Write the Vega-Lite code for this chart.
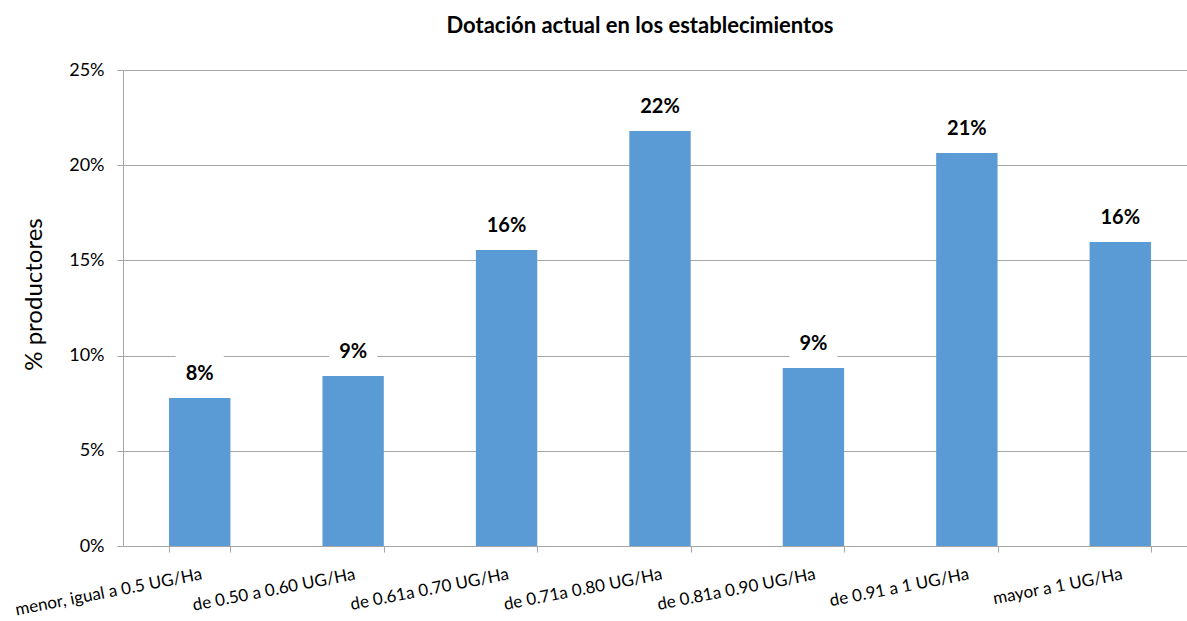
{
  "$schema": "https://vega.github.io/schema/vega-lite/v6.json",
  "autosize": {"type": "none"},
  "padding": {"left": 123, "top": 70, "right": 0, "bottom": 75},
  "width": 1074,
  "height": 476,
  "background": "white",
  "title": {
    "text": "Dotación actual en los establecimientos",
    "font": "Lato",
    "fontSize": 22,
    "fontWeight": "bold",
    "color": "#000000",
    "anchor": "middle",
    "dx": -20,
    "offset": 23
  },
  "data": {
    "values": [
      {"categoria": "menor, igual a 0.5 UG/Ha", "valor": 0.0777},
      {"categoria": "de 0.50 a 0.60 UG/Ha", "valor": 0.0893},
      {"categoria": "de 0.61a  0.70 UG/Ha", "valor": 0.1555},
      {"categoria": "de 0.71a  0.80 UG/Ha", "valor": 0.218},
      {"categoria": "de 0.81a  0.90 UG/Ha", "valor": 0.0935},
      {"categoria": "de 0.91 a 1  UG/Ha", "valor": 0.2064},
      {"categoria": "mayor a 1 UG/Ha", "valor": 0.1597}
    ]
  },
  "encoding": {
    "x": {
      "field": "categoria",
      "type": "nominal",
      "sort": null,
      "scale": {"paddingInner": 0.6, "paddingOuter": 0.3},
      "axis": {
        "title": null,
        "labelAngle": -11,
        "labelAlign": "right",
        "labelBaseline": "top",
        "labelFont": "Lato",
        "labelFontSize": 17,
        "labelColor": "#000000",
        "labelPadding": 14,
        "labelLimit": 400,
        "tickBand": "extent",
        "tickSize": 6,
        "tickColor": "#a6a6a6",
        "domainColor": "#a6a6a6",
        "grid": false
      }
    },
    "y": {
      "field": "valor",
      "type": "quantitative",
      "scale": {"domain": [0, 0.25]},
      "axis": {
        "title": "% productores",
        "titleFont": "Lato",
        "titleFontSize": 24,
        "titleFontWeight": "normal",
        "titleColor": "#000000",
        "titlePadding": 22,
        "titleY": 224,
        "values": [0, 0.05, 0.1, 0.15, 0.2, 0.25],
        "format": ".0%",
        "labelFont": "Lato",
        "labelFontSize": 18,
        "labelColor": "#000000",
        "labelPadding": 13,
        "tickSize": 6,
        "tickColor": "#a6a6a6",
        "domainColor": "#a6a6a6",
        "gridColor": "#a6a6a6",
        "gridWidth": 1
      }
    }
  },
  "layer": [
    {
      "mark": {"type": "bar", "color": "#5b9bd5"}
    },
    {
      "mark": {"type": "bar", "color": "white", "width": 48, "yOffset": -42, "y2Offset": -9},
      "encoding": {
        "y2": {"field": "valor"}
      }
    },
    {
      "mark": {"type": "text", "font": "Lato", "fontSize": 20, "fontWeight": "bold", "color": "#000000", "baseline": "middle", "dy": -24},
      "encoding": {
        "text": {"field": "valor", "type": "quantitative", "format": ".0%"}
      }
    }
  ],
  "config": {
    "view": {"stroke": null}
  }
}
